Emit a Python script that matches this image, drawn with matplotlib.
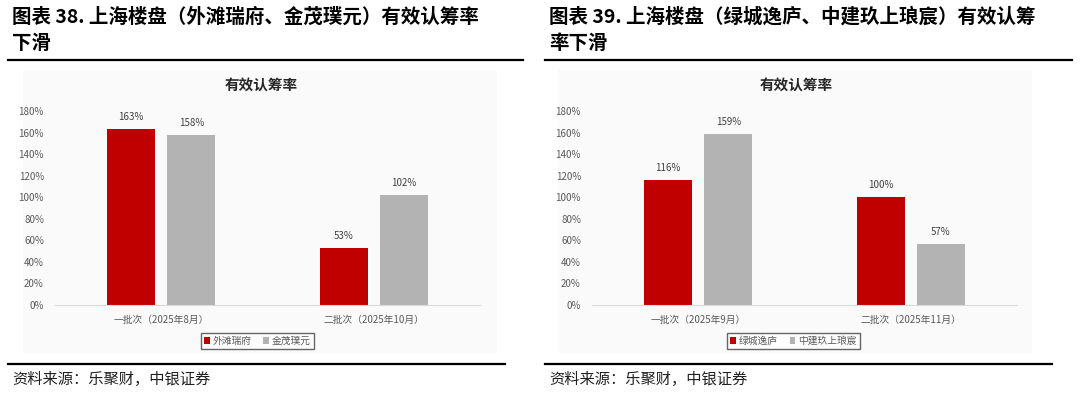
import matplotlib
matplotlib.use("Agg")
import matplotlib.pyplot as plt
from matplotlib.lines import Line2D
from matplotlib.patches import Rectangle
from matplotlib.ticker import FuncFormatter, MultipleLocator
import numpy as np

plt.rcParams['font.family'] = ['Noto Sans CJK SC', 'DejaVu Sans']

# ---- data ----
left_header = ["图表 38. 上海楼盘（外滩瑞府、金茂璞元）有效认筹率", "下滑"]
right_header = ["图表 39. 上海楼盘（绿城逸庐、中建玖上琅宸）有效认筹", "率下滑"]
chart_title = "有效认筹率"
source_text = "资料来源：乐聚财，中银证券"

left_categories = ["一批次（2025年8月）", "二批次（2025年10月）"]
left_series = ["外滩瑞府", "金茂璞元"]
left_values_a = [163, 53]
left_values_b = [158, 102]

right_categories = ["一批次（2025年9月）", "二批次（2025年11月）"]
right_series = ["绿城逸庐", "中建玖上琅宸"]
right_values_a = [116, 100]
right_values_b = [159, 57]

RED = "#C00000"
GREY = "#B3B3B3"
TXT = "#595959"

W, H = 1080, 397
fig = plt.figure(figsize=(W / 100, H / 100), dpi=100)
fig.patch.set_facecolor("white")


def fx(px):
    return px / W


def fy(py):
    return 1 - py / H


def panel(x0, header, cats, series, va, vb, bg_x0, bg_x1, ax_x0, ax_x1, line_x1, src_x1, legend_cx):
    # header texts
    fig.text(fx(x0 + 4), fy(17), header[0], fontsize=14, fontweight="bold",
             color="black", va="center", ha="left")
    fig.text(fx(x0 + 4), fy(43), header[1], fontsize=14, fontweight="bold",
             color="black", va="center", ha="left")
    fig.add_artist(Line2D([fx(x0), fx(line_x1)], [fy(59.5), fy(59.5)],
                          color="black", lw=1.6, transform=fig.transFigure))
    # chart background
    fig.add_artist(Rectangle((fx(bg_x0), fy(353)), fx(bg_x1 - bg_x0), (353 - 70) / H,
                             facecolor="#fafafa", edgecolor="none",
                             transform=fig.transFigure, zorder=0))
    # chart title
    fig.text(fx((bg_x0 + bg_x1) / 2 + 1), fy(85), chart_title, fontsize=10.5,
             fontweight="bold", color="#262626", ha="center", va="center")
    # axes
    ax = fig.add_axes([fx(ax_x0), fy(305), fx(ax_x1 - ax_x0), 194 / H])
    ax.set_facecolor("none")
    x = np.arange(len(cats))
    bw = 0.226
    off = 0.142
    ba = ax.bar(x - off, va, bw, color=RED, label=series[0], zorder=2)
    bb = ax.bar(x + off, vb, bw, color=GREY, label=series[1], zorder=2)
    ax.bar_label(ba, labels=[f"{v}%" for v in va], padding=5, fontsize=7, color="#404040")
    ax.bar_label(bb, labels=[f"{v}%" for v in vb], padding=5, fontsize=7, color="#404040")
    ax.set_xlim(-0.5, len(cats) - 0.5)
    ax.set_ylim(0, 180)
    ax.yaxis.set_major_locator(MultipleLocator(20))
    ax.yaxis.set_major_formatter(FuncFormatter(lambda v, p: f"{int(v)}%"))
    ax.set_xticks(x)
    ax.set_xticklabels(cats)
    for s in ["top", "right", "left"]:
        ax.spines[s].set_visible(False)
    ax.spines["bottom"].set_color("#d9d9d9")
    ax.spines["bottom"].set_linewidth(0.8)
    ax.tick_params(axis="both", length=0, labelsize=7, colors=TXT)
    ax.tick_params(axis="x", pad=7)
    ax.tick_params(axis="y", pad=8)
    leg = ax.legend(loc="center", bbox_to_anchor=(fx(legend_cx), fy(341)),
                    bbox_transform=fig.transFigure, ncol=2, fontsize=7,
                    frameon=True, fancybox=False, edgecolor="#404040",
                    handlelength=0.6, handleheight=0.6, handletextpad=0.3,
                    columnspacing=1.2, borderpad=0.35)
    leg.get_frame().set_linewidth(1.0)
    for t in leg.get_texts():
        t.set_color(TXT)
    # source
    fig.add_artist(Line2D([fx(x0), fx(src_x1)], [fy(364), fy(364)],
                          color="black", lw=1.6, transform=fig.transFigure))
    fig.text(fx(x0 + 4), fy(379), source_text, fontsize=11, style="italic",
             color="#202020", va="center", ha="left")
    return ax


panel(8, left_header, left_categories, left_series, left_values_a, left_values_b,
      23, 497, 55, 480, 523, 505, 257.5)
panel(545, right_header, right_categories, right_series, right_values_a, right_values_b,
      558, 1032, 592, 1017, 1072, 1052, 793.5)

fig.savefig("out.png", dpi=100)
